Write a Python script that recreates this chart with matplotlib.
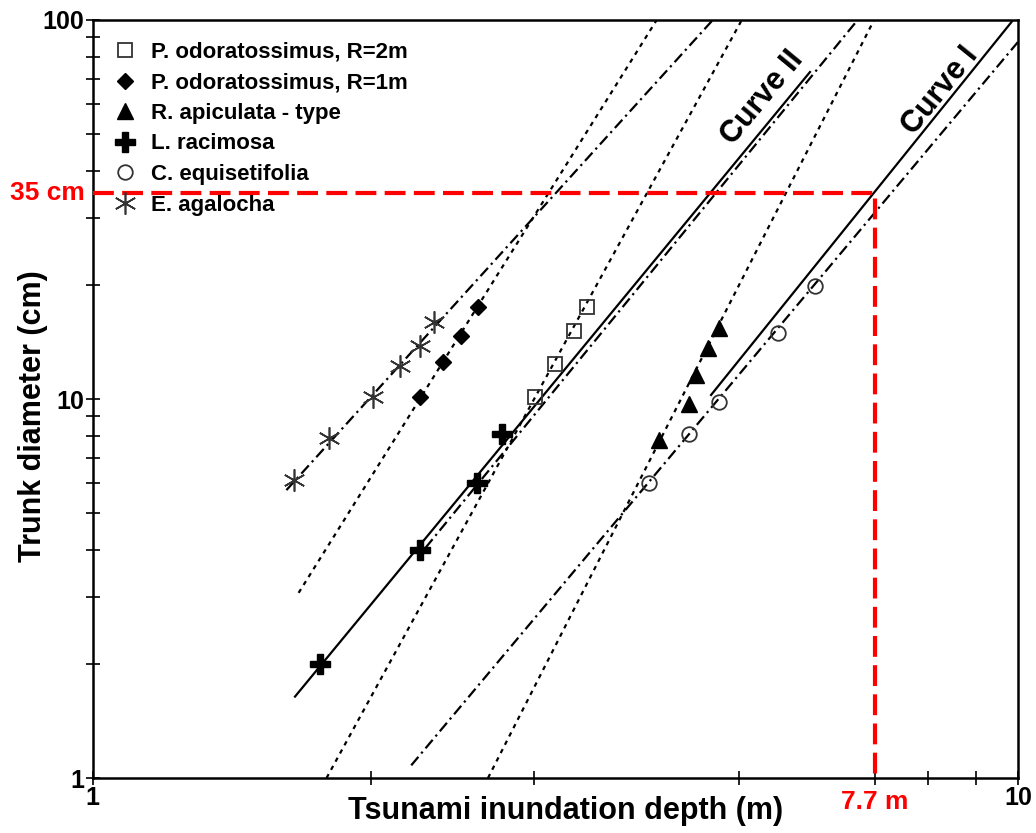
import numpy as np
import matplotlib
matplotlib.use('Agg')
import matplotlib.pyplot as plt
import matplotlib.transforms as mtransforms
from matplotlib.lines import Line2D

plt.rcParams['font.family'] = ['Liberation Sans', 'DejaVu Sans']
plt.rcParams['font.weight'] = 'bold'

# ==========================================
# DATA
# ==========================================

agalocha_x = [1.65, 1.80, 2.01, 2.15, 2.26, 2.34]
agalocha_y = [6.1, 7.9, 10.1, 12.2, 13.8, 16.0]

odor1_x = [2.26, 2.39, 2.50, 2.61]
odor1_y = [10.1, 12.5, 14.7, 17.5]

odor2_x = [3.01, 3.16, 3.31, 3.42]
odor2_y = [10.1, 12.4, 15.1, 17.5]

racimosa_x = [1.76, 2.26, 2.60, 2.77]
racimosa_y = [2.0, 4.0, 6.0, 8.1]

apiculata_x = [4.09, 4.41, 4.49, 4.62, 4.75]
apiculata_y = [7.8, 9.7, 11.6, 13.6, 15.4]

equis_x = [3.99, 4.41, 4.75, 5.50, 6.03]
equis_y = [6.0, 8.1, 9.8, 14.9, 19.9]

# fitted lines (end points)
agalocha_fit_x = [1.62, 4.68]
agalocha_fit_y = [5.75, 100]
odor1_fit_x = [1.67, 4.07]
odor1_fit_y = [3.08, 100]
odor2_fit_x = [1.79, 5.03]
odor2_fit_y = [1.0, 100]
racimosa_fit_x = [2.29, 6.71]
racimosa_fit_y = [4.05, 100]
apiculata_fit_x = [2.675, 6.99]
apiculata_fit_y = [1.0, 100]
equis_fit_x = [2.21, 10.0]
equis_fit_y = [1.08, 87.5]

curve1_x = [4.66, 9.88]
curve1_y = [10.25, 100]
curve2_x = [1.655, 5.96]
curve2_y = [1.64, 72.9]

# design point
design_x = 7.0
design_y = 35
design_x_label = '7.7 m'
design_y_label = '35 cm'

legend_labels = ['P. odoratossimus, R=2m', 'P. odoratossimus, R=1m',
                 'R. apiculata - type', 'L. racimosa',
                 'C. equisetifolia', 'E. agalocha']

# ==========================================
# FIGURE
# ==========================================

fig = plt.figure(figsize=(10.36, 8.33), dpi=100)
ax = fig.add_axes([0.0893, 0.066, 0.8933, 0.910])
ax.set_xscale('log')
ax.set_yscale('log')
ax.set_xlim(1, 10)
ax.set_ylim(1, 100)

dot = (0, (2, 2.2))
dashdot = (0, (5, 2, 1, 2))
lw = 1.6

ax.plot(agalocha_fit_x, agalocha_fit_y, color='black', lw=lw, ls=dashdot)
ax.plot(odor1_fit_x, odor1_fit_y, color='black', lw=lw, ls=dot)
ax.plot(odor2_fit_x, odor2_fit_y, color='black', lw=lw, ls=dot)
ax.plot(racimosa_fit_x, racimosa_fit_y, color='black', lw=lw, ls=dashdot)
ax.plot(apiculata_fit_x, apiculata_fit_y, color='black', lw=lw, ls=dot)
ax.plot(equis_fit_x, equis_fit_y, color='black', lw=lw, ls=dashdot)
ax.plot(curve1_x, curve1_y, color='black', lw=1.6)
ax.plot(curve2_x, curve2_y, color='black', lw=1.6)

# markers
sq_style = dict(marker='s', ms=10.5, mfc='none', mec='#333333', mew=1.3, ls='none')
dm_style = dict(marker='D', ms=8.5, mfc='black', mec='black', ls='none')
tr_style = dict(marker='^', ms=11, mfc='black', mec='black', ls='none')
pl_style = dict(marker='P', ms=14, mfc='black', mec='black', ls='none')
ci_style = dict(marker='o', ms=10.5, mfc='none', mec='#333333', mew=1.3, ls='none')
as_style = dict(marker=(6, 2, 0), ms=16, mec='#333333', mew=1.2, ls='none')

ax.plot(odor2_x, odor2_y, **sq_style, zorder=4)
ax.plot(odor1_x, odor1_y, **dm_style, zorder=4)
ax.plot(apiculata_x, apiculata_y, **tr_style, zorder=4)
ax.plot(racimosa_x, racimosa_y, **pl_style, zorder=4)
ax.plot(equis_x, equis_y, **ci_style, zorder=4)
ax.plot(agalocha_x, agalocha_y, **as_style, zorder=4)

# red design lines (one path so the corner is joined)
ax.plot([1, design_x, design_x], [design_y, design_y, 1], color='red', lw=3,
        dashes=(5, 2), zorder=5)

blend_y = mtransforms.blended_transform_factory(ax.transAxes, ax.transData)
blend_x = mtransforms.blended_transform_factory(ax.transData, ax.transAxes)
ax.text(-0.008, design_y, design_y_label, transform=blend_y, ha='right', va='center',
        color='red', fontsize=19, fontweight='bold')
ax.text(design_x, -0.016, design_x_label, transform=blend_x, ha='center', va='top',
        color='red', fontsize=19, fontweight='bold')

# curve labels, parallel to their lines
def line_angle(xs, ys):
    p = ax.transData.transform(list(zip(xs, ys)))
    return np.degrees(np.arctan2(p[1][1] - p[0][1], p[1][0] - p[0][0]))

ax.text(5.30, 62.3, 'Curve II', rotation=line_angle(curve2_x, curve2_y),
        rotation_mode='anchor', ha='center', va='center', fontsize=22, fontweight='bold')
ax.text(8.24, 64.9, 'Curve I', rotation=line_angle(curve1_x, curve1_y),
        rotation_mode='anchor', ha='center', va='center', fontsize=22, fontweight='bold')

# ticks
ax.set_xticks([1, 10])
ax.set_xticklabels(['1', '10'])
ax.set_xticks([2, 3, 5, 7, 8, 9], minor=True)
ax.set_xticklabels([], minor=True)
ax.set_yticks([1, 10, 100])
ax.set_yticklabels(['1', '10', '100'])
ax.set_yticks([2, 3, 4, 5, 6, 7, 8, 9, 20, 30, 40, 50, 60, 70, 80, 90], minor=True)
ax.set_yticklabels([], minor=True)
ax.tick_params(which='both', direction='inout', length=10, width=1.2,
               top=False, right=False, labelsize=18, pad=1)
for s in ax.spines.values():
    s.set_linewidth(1.8)

ax.set_xlabel('Tsunami inundation depth (m)', fontsize=22, fontweight='bold')
ax.set_ylabel('Trunk diameter (cm)', fontsize=22, fontweight='bold')
ax.xaxis.set_label_coords(0.5116, -0.024)
ax.yaxis.set_label_coords(-0.048, 0.478)

handles = [Line2D([], [], **sq_style), Line2D([], [], **dm_style),
           Line2D([], [], **tr_style), Line2D([], [], **pl_style),
           Line2D([], [], **ci_style), Line2D([], [], **as_style)]
ax.legend(handles, legend_labels, loc='upper left', bbox_to_anchor=(0.0135, 0.983),
          borderaxespad=0, frameon=False, fontsize=16, handlelength=1.0,
          handletextpad=0.68, labelspacing=0.43)

fig.savefig('out.png', dpi=100)
